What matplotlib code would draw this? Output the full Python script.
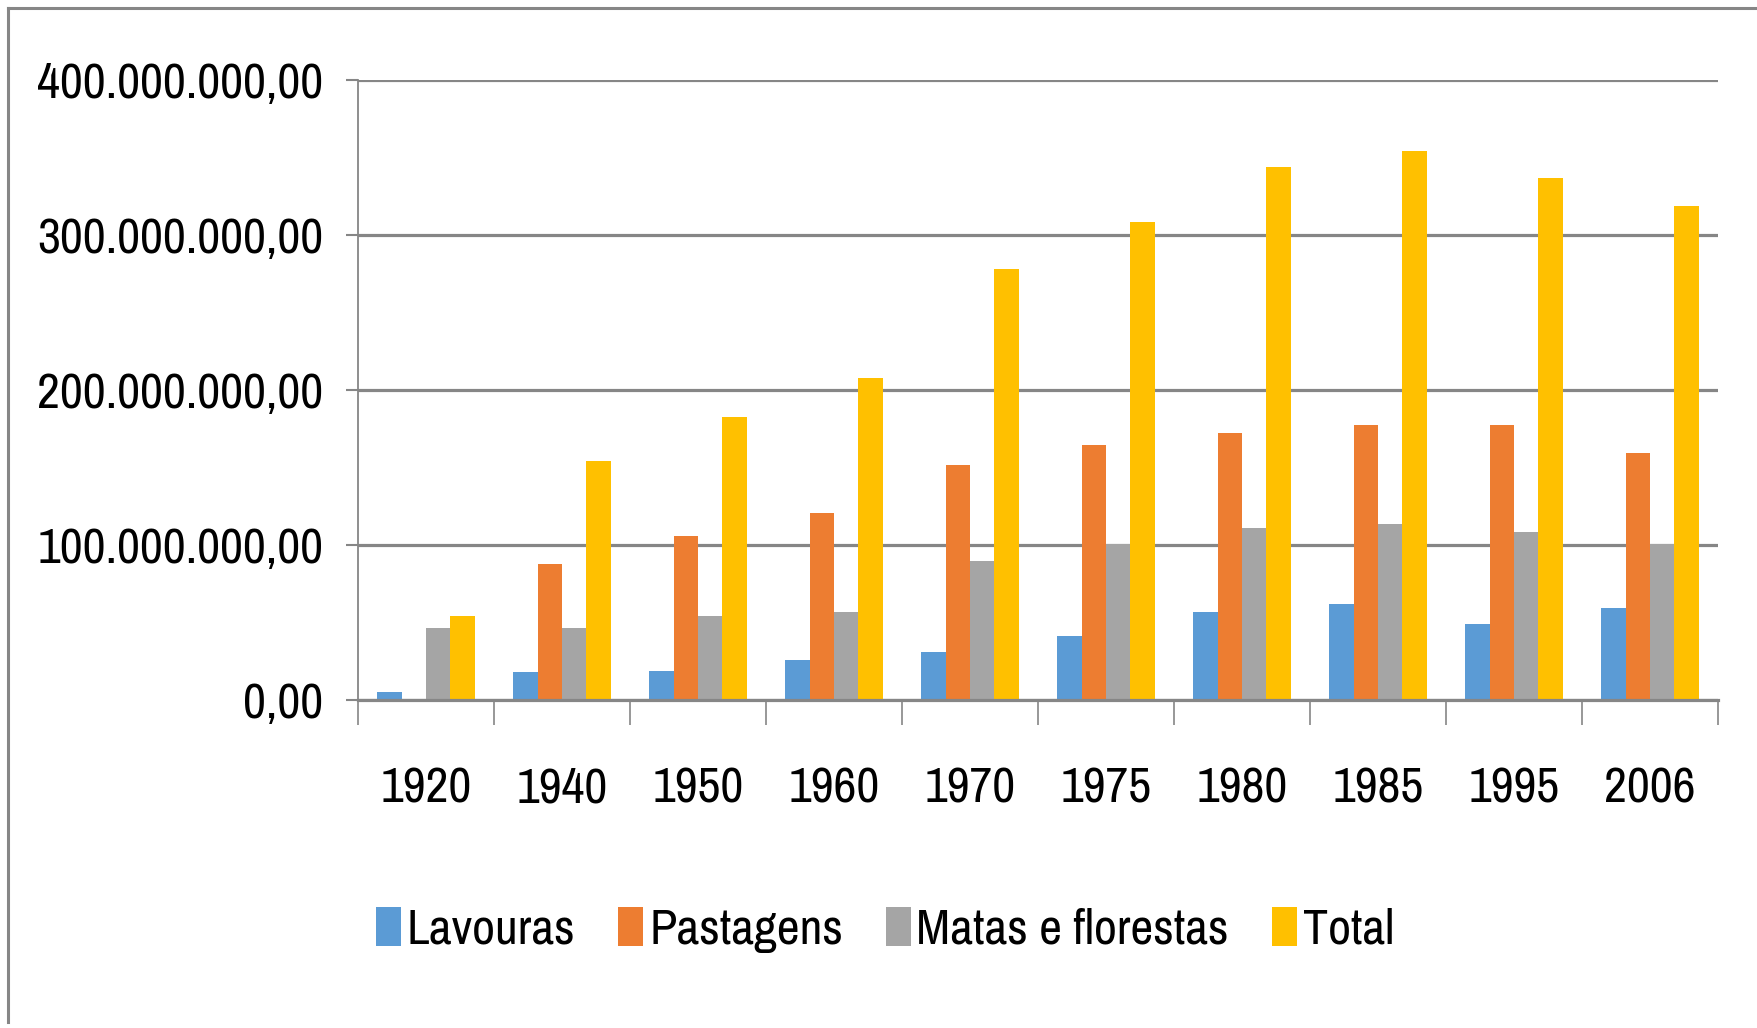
import matplotlib
matplotlib.use("Agg")
import matplotlib.pyplot as plt
from matplotlib import font_manager
from matplotlib.patches import Patch
from matplotlib.lines import Line2D
from matplotlib.ticker import FuncFormatter, FixedLocator
import numpy as np

years = ["1920", "1940", "1950", "1960", "1970", "1975", "1980", "1985", "1995", "2006"]
lavouras = [5.4e6, 18e6, 18.5e6, 26e6, 31e6, 41.6e6, 56.7e6, 62e6, 49e6, 59.6e6]
pastagens = [0, 87.7e6, 105.8e6, 120.9e6, 151.6e6, 164.3e6, 172.2e6, 177.3e6, 177.3e6, 159.4e6]
matas = [46.4e6, 46.4e6, 54e6, 56.6e6, 90e6, 100.7e6, 111e6, 113.8e6, 108.4e6, 100.7e6]
total = [54e6, 154e6, 182.4e6, 208e6, 278e6, 308.4e6, 344e6, 354.4e6, 336.7e6, 319e6]
series_names = ["Lavouras", "Pastagens", "Matas e florestas", "Total"]
yticks = [0, 100e6, 200e6, 300e6, 400e6]

colors = ["#5B9BD5", "#ED7D31", "#A5A5A5", "#FFC000"]
grid_c = "#868686"

# pick a narrow / condensed regular face if one is installed
cands = []
for f in font_manager.fontManager.ttflist:
    nm = f.name.lower()
    fn = f.fname.lower()
    if f.style != "normal" or f.weight not in (400, "normal", "regular"):
        continue
    if "bold" in fn or "oblique" in fn or "italic" in fn:
        continue
    score = None
    if "narrow" in nm or "narrow" in fn:
        score = 0 if "liberation" in fn else 1
    elif "condensed" in nm or "condensed" in fn or str(f.stretch) in ("condensed", "semi-condensed", "extra-condensed"):
        score = 2 if ("light" not in fn and "thin" not in fn and "semi" not in fn) else 4
    if score is not None:
        cands.append((score, f.fname))
cands.sort()
if cands:
    fp = font_manager.FontProperties(fname=cands[0][1])
    fs = 36
else:
    fp = font_manager.FontProperties(family="Liberation Sans")
    fs = 31
fp.set_size(fs)

fig = plt.figure(figsize=(17.58, 10.28), dpi=100)
ax = fig.add_axes([358/1758, 1-700/1028, (1718-358)/1758, (700-80)/1028])

x = np.arange(len(years))
w = 0.18
data = [lavouras, pastagens, matas, total]
for i, (vals, c) in enumerate(zip(data, colors)):
    ax.bar(x + (i - 1.5) * w, vals, width=w, color=c, zorder=3)

ax.set_xlim(-0.5, len(years) - 0.5)
ax.set_ylim(0, 400e6)
ax.set_yticks(yticks)

def br(v, pos):
    s = f"{v:,.2f}"
    return s.replace(",", "X").replace(".", ",").replace("X", ".")
ax.yaxis.set_major_formatter(FuncFormatter(br))

ax.xaxis.set_major_locator(FixedLocator(np.arange(-0.5, len(years), 1.0)))
ax.xaxis.set_minor_locator(FixedLocator(x))
ax.set_xticklabels([])
ax.set_xticklabels(years, minor=True)
ax.tick_params(axis="x", which="major", length=18, width=1.2, color=grid_c, direction="out")
ax.tick_params(axis="x", which="minor", length=0, pad=48)
ax.tick_params(axis="y", length=9, width=1.5, color=grid_c, pad=16)
for lab in ax.get_xticklabels(minor=True) + ax.get_yticklabels():
    lab.set_fontproperties(fp)

ax.yaxis.grid(True, color=grid_c, linewidth=2.3, zorder=0)
for s in ["top", "right"]:
    ax.spines[s].set_visible(False)
ax.spines["left"].set_color(grid_c)
ax.spines["left"].set_linewidth(1.3)
ax.spines["bottom"].set_color(grid_c)
ax.spines["bottom"].set_linewidth(2.3)
ax.spines["bottom"].set_zorder(4)

handles = [Patch(facecolor=c, edgecolor="none") for c in colors]
fig.legend(handles, series_names, loc="center left", bbox_to_anchor=(376/1758, 1-930/1028),
           frameon=False, prop=fp, handlelength=0.5, handleheight=0.8,
           handletextpad=0.12, columnspacing=0.85, ncol=4, borderaxespad=0, borderpad=0)

# outer frame lines (left and top)
fig.add_artist(Line2D([8/1758, 8/1758], [1-8/1028, 1-1022/1028], color=grid_c, linewidth=2.2,
                      transform=fig.transFigure))
fig.add_artist(Line2D([8/1758, 1.0], [1-8/1028, 1-8/1028], color=grid_c, linewidth=2.2,
                      transform=fig.transFigure))

fig.savefig("out.png", dpi=100)
